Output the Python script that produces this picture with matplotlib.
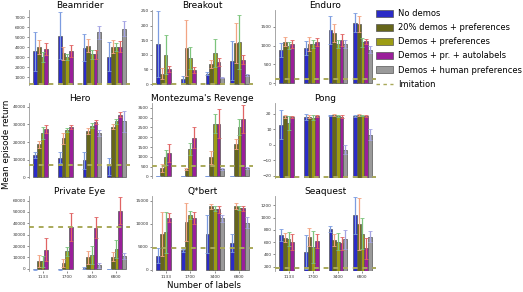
import numpy as np
import matplotlib
matplotlib.use("Agg")
import matplotlib.pyplot as plt
from matplotlib.patches import Patch
from matplotlib.lines import Line2D

nan = np.nan

label_counts = ["1133", "1700", "3400", "6800"]
methods = ["No demos", "20% demos + preferences", "Demos + preferences",
           "Demos + pr. + autolabels", "Demos + human preferences"]

# rows = methods, columns = label counts
beamrider_mean = [[3570, 5160, 3960, 3050],
                  [3990, 3375, 4120, 4020],
                  [2990, 2990, 3280, 4020],
                  [3790, 3630, 3280, 4020],
                  [nan, nan, 5480, 5840]]
beamrider_err = [[1950, 2300, 1300, 1430],
                 [700, 680, 650, 650],
                 [480, 300, 480, 400],
                 [590, 620, 480, 550],
                 [nan, nan, 650, 770]]

breakout_mean = [[138, 17, 36, 80],
                 [35, 124, 68, 141],
                 [101, 89, 106, 144],
                 [52, 48, 75, 84],
                 [nan, nan, 22, 30]]
breakout_err = [[112, 12, 4, 67],
                [19, 95, 13, 68],
                [65, 36, 48, 92],
                [10, 9, 14, 15],
                [nan, nan, 2, 3]]

enduro_mean = [[891, 936, 1420, 1614],
               [1103, 1042, 1341, 1579],
               [997, 1042, 1042, 1085],
               [1042, 1103, 1148, 1111],
               [nan, nan, 1050, 891]]
enduro_err = [[190, 185, 370, 250],
              [125, 185, 240, 210],
              [100, 105, 105, 115],
              [95, 105, 160, 65],
              [nan, nan, 105, 90]]

hero_mean = [[12500, 11150, 9600, 6350],
             [18700, 22100, 26200, 28850],
             [25000, 27100, 29250, 31750],
             [27500, 28500, 31400, 35600],
             [nan, nan, 25000, 31700]]
hero_err = [[1700, 3000, 4800, 4800],
            [2000, 3000, 1700, 1350],
            [3400, 1100, 1500, 1350],
            [2300, 1300, 1300, 1500],
            [nan, nan, 1800, 6200]]

montezuma_mean = [[0, 0, 0, 0],
                  [440, 390, 970, 1663],
                  [970, 1410, 2700, 2530],
                  [1189, 1970, 2700, 2940],
                  [nan, nan, 390, 440]]
montezuma_err = [[0, 0, 0, 0],
                 [190, 50, 320, 250],
                 [400, 300, 500, 400],
                 [445, 530, 730, 730],
                 [nan, nan, 50, 60]]

pong_mean = [[13.0, 18.0, 19.0, 18.8],
             [18.4, 18.0, 19.2, 19.3],
             [14.1, 17.6, 18.7, 18.8],
             [18.0, 18.4, 18.0, 18.4],
             [nan, nan, -3.2, 6.5]]
pong_err = [[9.3, 1.9, 0.5, 0.7],
            [0.8, 1.0, 0.5, 0.5],
            [4.3, 1.4, 0.6, 0.5],
            [0.7, 0.6, 1.0, 0.6],
            [nan, nan, 2.8, 3.7]]

private_eye_mean = [[-300, -300, 400, -200],
                    [6600, 5200, 10300, 10600],
                    [6600, 15200, 11800, 17200],
                    [16600, 36800, 35900, 50900],
                    [nan, nan, 2900, 11200]]
private_eye_err = [[500, 500, 700, 300],
                   [5200, 3400, 5700, 3800],
                   [4900, 4300, 8000, 7800],
                   [10100, 12100, 9200, 11800],
                   [nan, nan, 2000, 2300]]

qbert_mean = [[3000, 4230, 7780, 5750],
              [7780, 10340, 13730, 13800],
              [8150, 11920, 13280, 13430],
              [11310, 11170, 13120, 13350],
              [nan, nan, 11170, 10180]]
qbert_err = [[1600, 300, 4100, 1900],
             [4800, 4200, 600, 600],
             [4450, 840, 500, 500],
             [1000, 1260, 770, 550],
             [nan, nan, 800, 1200]]

seaquest_mean = [[718, 443, 807, 1033],
                 [674, 680, 636, 895],
                 [646, 514, 608, 735],
                 [597, 620, 580, 498],
                 [nan, nan, 646, 691]]
seaquest_err = [[100, 275, 50, 300],
                [70, 145, 95, 420],
                [115, 260, 140, 250],
                [127, 110, 110, 165],
                [nan, nan, 155, 85]]

games = ["Beamrider", "Breakout", "Enduro", "Hero", "Montezuma's Revenge",
         "Pong", "Private Eye", "Q*bert", "Seaquest"]
game_means = [beamrider_mean, breakout_mean, enduro_mean, hero_mean, montezuma_mean,
              pong_mean, private_eye_mean, qbert_mean, seaquest_mean]
game_errs = [beamrider_err, breakout_err, enduro_err, hero_err, montezuma_err,
             pong_err, private_eye_err, qbert_err, seaquest_err]
imitation = [290, 1.5, 98, 6900, 540, -20.7, 37000, 4600, 184]

# axis ranges and tick steps per game
y_limits = [(230, 7700), (-3, 253), (-50, 1950), (-400, 42200), (-80, 3750),
            (-21.5, 27), (-2000, 64000), (-300, 16000), (130, 1350)]
y_ticks = [np.arange(1000, 7001, 1000), np.arange(0, 251, 50), np.arange(0, 1501, 500),
           np.arange(0, 40001, 10000), np.arange(0, 3501, 500), np.arange(-20, 21, 10),
           np.arange(0, 60001, 10000), np.arange(0, 15001, 5000), np.arange(200, 1201, 200)]
bar_base = [230, 0, 0, 0, 0, -21.5, 0, 0, 130]

BAR_COLORS = ["#2b2bc6", "#66661a", "#9c9c14", "#9a1f9a", "#9a9a9a"]
ERR_COLORS = ["#7c9ce0", "#f2a483", "#7cc47c", "#e06464", "#a3a3e3"]
EDGE_COL = "#555555"
IMIT_COL = "#a9a95a"
SPINE_COL = "#999999"

W, H = 523, 292
fig = plt.figure(figsize=(W / 100, H / 100), dpi=100)

col_left = [29, 152, 275]
row_top = [10, 103, 196]
ax_w, ax_h = 101, 75

bw = 0.15
x = np.arange(len(label_counts))

for k, game in enumerate(games):
    r, c = divmod(k, 3)
    ax = fig.add_axes([col_left[c] / W, 1 - (row_top[r] + ax_h) / H, ax_w / W, ax_h / H])
    base = bar_base[k]
    means = np.array(game_means[k], dtype=float)
    errs = np.array(game_errs[k], dtype=float)
    for m in range(len(methods)):
        ax.bar(x + (m - 2) * bw, means[m] - base, bw, bottom=base,
               color=BAR_COLORS[m], edgecolor=EDGE_COL, linewidth=0.5,
               yerr=errs[m], error_kw=dict(ecolor=ERR_COLORS[m], elinewidth=0.9,
                                           capsize=1.2, capthick=0.6))
    ax.axhline(imitation[k], color=IMIT_COL, linestyle=(0, (2.5, 2.5)), linewidth=1.4, zorder=5)
    ax.set_xlim(-0.55, 3.55)
    ax.set_ylim(*y_limits[k])
    ax.set_yticks(y_ticks[k])
    ax.set_title(game, fontsize=6.5, pad=1.5)
    for sp in ["top", "right", "bottom"]:
        ax.spines[sp].set_visible(False)
    ax.spines["left"].set_color(SPINE_COL)
    ax.spines["left"].set_linewidth(0.6)
    ax.tick_params(axis="y", labelsize=3.1, length=1.5, width=0.4, pad=1, colors="#333333")
    ax.set_xticks(x)
    if r == 2:
        ax.set_xticklabels(label_counts)
        ax.tick_params(axis="x", labelsize=3.1, length=1.2, width=0.4, pad=2, colors="#333333")
    else:
        ax.tick_params(axis="x", bottom=False, labelbottom=False)

handles = [Patch(facecolor=BAR_COLORS[m], edgecolor=EDGE_COL, linewidth=0.5, label=methods[m])
           for m in range(len(methods))]
handles.append(Line2D([0], [0], color=IMIT_COL, linestyle=(0, (2.5, 2.5)), linewidth=1.0,
                      label="Imitation"))
fig.legend(handles=handles, loc="upper left", bbox_to_anchor=(376 / W, 1 - 9 / H),
           fontsize=6, frameon=False, handlelength=2.0, handleheight=0.9,
           labelspacing=0.62, handletextpad=0.7, borderaxespad=0, borderpad=0)

fig.text(7 / W, 1 - 144 / H, "Mean episode return", rotation=90, fontsize=6.2,
         ha="center", va="center")
fig.text(204 / W, 1 - 286 / H, "Number of labels", fontsize=6.2, ha="center", va="center")

fig.savefig("out.png", dpi=100)
